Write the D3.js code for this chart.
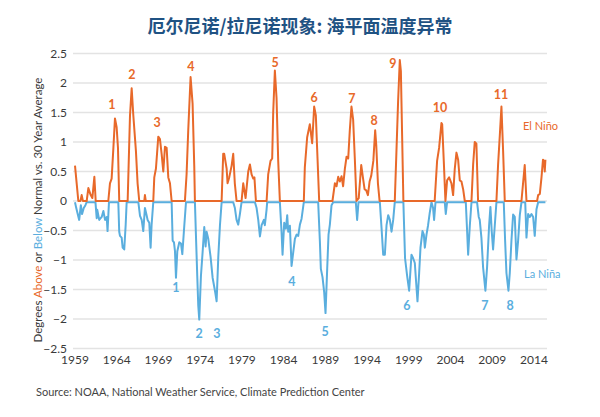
<!DOCTYPE html>
<html><head><meta charset="utf-8">
<script src="https://cdn.jsdelivr.net/npm/d3@7"></script>
<style>body{margin:0;background:#fff}svg{display:block}</style>
</head><body>
<svg id="c" width="600" height="417"></svg>
<script>
const elNinoYears=[1959.0,1959.2,1959.4,1959.65,1959.8,1959.95,1960.4,1960.6,1960.88,1961.08,1961.32,1961.48,
1962.99,1963.19,1963.39,1963.6,1963.79,1963.99,1964.15,1964.3,
1965.31,1965.59,1965.79,1965.99,1966.3,1966.5,1966.7,1967.3,1967.38,1967.48,
1968.38,1968.5,1968.7,1968.98,1969.18,1969.38,1969.58,1969.78,1969.98,1970.18,1970.38,1970.58,
1972.17,1972.37,1972.57,1972.85,1973.09,1973.29,1973.37,
1976.57,1976.76,1976.88,1977.17,1977.28,1977.48,1977.77,1977.96,1978.15,1978.36,
1978.96,1979.16,1979.44,1979.76,1979.96,1980.16,1980.36,1980.5,1980.68,
1981.96,1982.15,1982.43,1982.63,1982.75,1982.95,1983.15,1983.35,1983.55,
1986.42,1986.54,1986.82,1987.14,1987.42,1987.66,1987.86,1988.02,1988.26,
1989.85,1990.14,1990.34,1990.54,1990.74,1990.94,1991.13,1991.34,1991.54,1991.74,1991.93,1992.13,1992.33,1992.53,1992.73,
1993.0,1993.3,1993.5,1993.7,1993.9,1994.1,1994.3,1994.5,1994.75,1994.97,1995.1,1995.3,1995.5,
1997.32,1997.52,1997.72,1997.92,1998.05,1998.2,1998.35,
2002.1,2002.39,2002.63,2002.91,2003.0,2003.19,2003.39,2003.59,2003.83,2004.11,2004.31,2004.51,2004.71,2004.91,2005.11,2005.31,2005.51,2005.71,
2006.51,2006.71,2006.9,2007.1,2007.3,
2009.5,2009.7,2009.9,2010.1,2010.3,2010.5,
2012.5,2012.89,2013.1,
2014.37,2014.5,2014.7,2014.9,2015.08,2015.2,2015.29,2015.37];
const elNinoValues=[0.6,0.3,0,0,0.1,0,0,0.22,0.1,0.05,0.41,0,
0,0.3,0.38,0.9,1.4,1.25,0.9,0,
0,1.45,1.91,1.45,0.85,0.3,0,0,0.1,0,
0,0.4,0.55,1.09,1.05,0.8,0.5,0.92,0.9,0.4,0.3,0,
0,0.45,1.2,2.1,1.65,0.6,0,
0,0.8,0.8,0.55,0.3,0.4,0.6,0.8,0.3,0,
0,0.3,0.05,0.5,0.62,0.45,0.38,0.4,0,
0,0.45,0.68,0.72,1.5,2.21,1.75,0.68,0,
0,0.57,1.08,1.3,0.98,1.6,1.45,0.87,0,
0,0.3,0.25,0.41,0.33,0.42,0.25,0.55,0.75,0.72,1.2,1.6,1.38,0.72,0,
0.05,0.61,0.4,0.2,0.18,0.1,0.33,0.43,0.68,1.2,0.95,0.3,0,
0,0.85,1.7,2.39,2.2,1.1,0,
0,0.68,0.9,1.32,1.3,0.68,0,0.35,0.4,0.3,0.1,0.55,0.82,0.7,0.35,0.33,0.2,0,
0,0.62,1.0,0.97,0,
0,0.62,1.1,1.6,0.85,0,
0,0.61,0,
0,0.1,0.12,0.4,0.7,0.68,0.5,0.7];

const laNinaYears=[1959.0,1959.15,1959.5,1959.7,1959.85,1960.05,1960.25,1960.4,
1961.45,1961.6,1961.67,1961.9,1962.2,1962.4,1962.6,1962.8,1962.9,1963.07,
1964.19,1964.3,1964.39,1964.59,1964.71,1964.9,1965.07,1965.19,
1966.59,1966.79,1966.99,1967.18,1967.38,1967.58,1967.7,1967.9,1968.06,1968.18,1968.38,
1970.58,1970.7,1970.86,1970.98,1971.1,1971.26,1971.5,1971.7,1971.86,1972.1,1972.3,
1973.37,1973.49,1973.65,1973.77,1973.89,1974.09,1974.29,1974.49,1974.65,1974.77,1974.97,1975.25,1975.49,1975.77,1975.97,1976.17,1976.37,1976.57,
1977.96,1978.16,1978.36,1978.56,1978.76,1978.96,
1980.56,1980.76,1980.96,1981.16,1981.36,1981.48,1981.63,1981.75,1981.96,1982.03,
1983.55,1983.75,1983.87,1984.07,1984.27,1984.43,1984.55,1984.75,1984.95,1985.15,1985.35,1985.55,1985.75,1985.95,1986.15,1986.42,
1988.14,1988.34,1988.46,1988.66,1988.86,1989.02,1989.22,1989.38,1989.54,1989.74,1989.94,
1992.65,1992.81,1992.97,
1995.53,1995.73,1995.93,1996.13,1996.33,1996.53,1996.73,1996.93,1997.13,1997.32,
1998.35,1998.55,1998.8,1999.04,1999.32,1999.52,1999.72,1999.84,2000.04,2000.24,2000.4,2000.64,2000.8,2000.92,2001.12,2001.31,2001.52,2001.72,2001.91,2002.03,2002.2,
2003.31,2003.43,2003.59,
2005.83,2005.99,2006.11,2006.31,2006.51,
2007.18,2007.38,2007.5,2007.7,2007.9,2008.18,2008.38,2008.62,2008.78,2008.94,2009.1,2009.3,2009.5,
2010.38,2010.54,2010.7,2010.94,2011.1,2011.3,2011.5,2011.7,2011.9,2012.1,2012.3,2012.5,
2012.95,2013.1,2013.3,2013.5,2013.7,2013.9,2014.09,2014.3,2014.5,2015.37];
const laNinaValues=[0,-0.1,-0.3,-0.05,-0.2,-0.1,-0.05,0,
0,-0.27,-0.13,-0.3,-0.25,-0.15,-0.3,-0.25,-0.49,0,
0,-0.5,-0.57,-0.6,-0.77,-0.8,-0.39,0,
0,-0.23,-0.3,-0.49,-0.1,-0.22,-0.3,-0.35,-0.77,-0.38,0,
0,-0.65,-0.68,-0.83,-1.28,-0.83,-0.68,-0.7,-0.88,-0.39,0,
0,-0.55,-1.25,-1.75,-1.99,-1.25,-0.85,-0.42,-0.75,-0.5,-0.62,-0.93,-1.28,-1.5,-1.68,-0.93,-0.39,0,
0,-0.1,-0.3,-0.38,-0.2,0,
0,-0.1,-0.3,-0.58,-0.39,-0.35,-0.3,-0.39,-0.12,0,
0,-0.5,-0.89,-0.35,-0.45,-0.22,-0.5,-0.4,-1.08,-0.85,-0.62,-0.55,-0.57,-0.38,-0.28,0,
0,-0.65,-1.13,-1.27,-1.53,-1.88,-1.13,-0.55,-0.38,-0.05,0,
0,-0.3,0,
0,-0.43,-0.89,-0.89,-0.39,-0.22,-0.3,-0.5,-0.3,0,
0,-0.95,-1.25,-1.5,-0.89,-0.95,-1.03,-1.28,-1.68,-1.2,-0.77,-0.49,-0.55,-0.77,-0.55,-0.39,-0.17,0,-0.1,-0.3,0,
0,-0.2,0,
0,-0.5,-0.89,-0.4,0,
0,-0.25,-0.3,-0.6,-1.1,-1.5,-1.1,-0.4,-0.08,-0.5,-0.8,-0.4,0,
0,-0.65,-1.2,-1.5,-1.2,-0.65,-0.21,-0.25,-0.97,-0.65,-0.22,0,
0,-0.6,-0.2,-0.25,-0.2,-0.25,-0.57,-0.12,0,0];

const elNinoLabels=["1","2","3","4","5","6","7","8","9","10","11"];
const elNinoLabelYears=[1963.43,1965.83,1968.83,1972.9,1982.97,1987.64,1992.19,1994.83,1997.1,2002.74,2010.05];
const elNinoLabelValues=[1.64,2.15,1.32,2.27,2.34,1.76,1.73,1.36,2.32,1.59,1.81];
const laNinaLabels=["1","2","3","4","5","6","7","8"];
const laNinaLabelYears=[1971.1,1973.86,1976.0,1985.0,1988.96,1998.78,2008.13,2011.13];
const laNinaLabelValues=[-1.46,-2.24,-2.24,-1.36,-2.22,-1.78,-1.78,-1.78];

const xTicks=[1959,1964,1969,1974,1979,1984,1989,1994,1999,2004,2009,2014];
const yTicks=[-2.5,-2,-1.5,-1,-0.5,0,0.5,1,1.5,2,2.5];

const title="厄尔尼诺/拉尼诺现象: 海平面温度异常";
const source="Source: NOAA, National Weather Service, Climate Prediction Center";

const ORANGE="#e8692a", BLUE="#5aaede", TEXT="#3a3a3a";
const FONT="Lato, 'Open Sans', sans-serif";

const svg=d3.select("#c");
const x=d3.scaleLinear().domain([1959,2015.5]).range([75,546.5]);
const y=d3.scaleLinear().domain([-2.5,2.5]).range([348.5,53.5]);

// grid
svg.append("g").selectAll("line").data(yTicks).join("line")
  .attr("x1",73).attr("x2",547).attr("y1",d=>y(d)).attr("y2",d=>y(d))
  .attr("stroke","#e3e3e3").attr("stroke-width",1.5);

// y tick labels
svg.append("g").selectAll("text").data(yTicks).join("text")
  .attr("x",67).attr("y",d=>y(d)).attr("dy","0.35em").attr("text-anchor","end")
  .attr("font-family",FONT).attr("font-size",12).attr("fill",TEXT)
  .text(d=>d3.format("")(d));

// x tick labels
svg.append("g").selectAll("text").data(xTicks).join("text")
  .attr("x",d=>x(d)).attr("y",364).attr("text-anchor","middle")
  .attr("font-family",FONT).attr("font-size",12).attr("fill",TEXT)
  .text(d=>d);

const line=d3.line().x(d=>x(d[0])).y(d=>y(d[1]));
const elData=elNinoYears.map((t,i)=>[t,elNinoValues[i]]);
const laData=laNinaYears.map((t,i)=>[t,laNinaValues[i]]);

svg.append("path").datum(laData).attr("d",line).attr("fill","none")
  .attr("stroke",BLUE).attr("stroke-width",2).attr("stroke-linejoin","round")
  .attr("transform","translate(0,1.2)");
svg.append("path").datum(elData).attr("d",line).attr("fill","none")
  .attr("stroke",ORANGE).attr("stroke-width",2).attr("stroke-linejoin","round");

// annotations
svg.append("g").selectAll("text").data(elNinoLabels).join("text")
  .attr("x",(d,i)=>x(elNinoLabelYears[i])).attr("y",(d,i)=>y(elNinoLabelValues[i]))
  .attr("dy","0.35em").attr("text-anchor","middle")
  .attr("font-family",FONT).attr("font-size",12.5).attr("font-weight","bold").attr("fill",ORANGE)
  .text(d=>d);
svg.append("g").selectAll("text").data(laNinaLabels).join("text")
  .attr("x",(d,i)=>x(laNinaLabelYears[i])).attr("y",(d,i)=>y(laNinaLabelValues[i]))
  .attr("dy","0.35em").attr("text-anchor","middle")
  .attr("font-family",FONT).attr("font-size",12.5).attr("font-weight","bold").attr("fill",BLUE)
  .text(d=>d);

svg.append("text").attr("x",523).attr("y",126).attr("dy","0.35em")
  .attr("font-family",FONT).attr("font-size",11).attr("fill",ORANGE).text("El Niño");
svg.append("text").attr("x",524).attr("y",274).attr("dy","0.35em")
  .attr("font-family",FONT).attr("font-size",11).attr("fill",BLUE).text("La Niña");

// y axis title
const yt=svg.append("text").attr("transform","translate(42,210) rotate(-90)")
  .attr("text-anchor","middle").attr("font-family",FONT).attr("font-size",11.5).attr("fill",TEXT);
yt.append("tspan").text("Degrees ");
yt.append("tspan").attr("fill",ORANGE).text("Above");
yt.append("tspan").text(" or ");
yt.append("tspan").attr("fill",BLUE).text("Below");
yt.append("tspan").text(" Normal vs. 30 Year Average");

// title
svg.append("text").attr("x",300).attr("y",27).attr("dy","0.35em").attr("text-anchor","middle")
  .attr("font-family","'Noto Sans CJK SC', sans-serif").attr("font-weight","bold")
  .attr("font-size",18).attr("fill","#1f5283").text(title);

svg.append("text").attr("x",36).attr("y",392).attr("dy","0.35em")
  .attr("font-family",FONT).attr("font-size",11).attr("fill","#444").text(source);
</script>
</body></html>
